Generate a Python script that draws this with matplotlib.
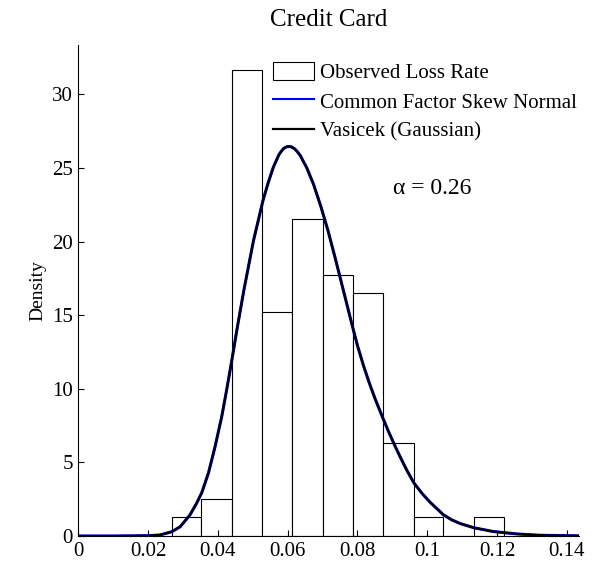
import numpy as np
import matplotlib.pyplot as plt
from matplotlib.patches import Patch
from matplotlib.lines import Line2D

plt.rcParams['font.family'] = ['Liberation Serif', 'DejaVu Serif']

# histogram of observed loss rate (density)
bin_edges = [0.0268, 0.0352, 0.0440, 0.0526, 0.0613, 0.0700, 0.0787, 0.0874, 0.0962, 0.1046, 0.1134, 0.1220]
bin_density = [1.27, 2.54, 31.65, 15.2, 21.55, 17.75, 16.5, 6.35, 1.27, 0.0, 1.27]

# fitted densities (both curves overlap)
curve_x = [0.000, 0.010, 0.020, 0.0234, 0.0268, 0.0292, 0.0320, 0.0339, 0.0354, 0.0373,
           0.0392, 0.0411, 0.0425, 0.0438, 0.0456, 0.0475, 0.0502, 0.0530, 0.0545, 0.0559,
           0.0575, 0.0583, 0.0590, 0.0598, 0.0605, 0.0612, 0.0620, 0.0628, 0.0636, 0.0655,
           0.0674, 0.0695, 0.0715, 0.0735,
           0.0750, 0.0767, 0.0784, 0.0800, 0.0817, 0.0834, 0.0851, 0.0874, 0.0890, 0.0908,
           0.0922, 0.0942, 0.0962, 0.0985, 0.1008, 0.1046, 0.1070, 0.1094, 0.1134, 0.1190,
           0.1257, 0.1323, 0.1436]
vasicek_y = [0.0, 0.0, 0.02, 0.07, 0.29, 0.63, 1.43, 2.22, 2.95, 4.28,
             6.07, 8.1, 9.9, 11.65, 14.2, 16.75, 20.05, 22.85, 24.05, 25.05,
             25.9, 26.17, 26.35, 26.44, 26.46, 26.42, 26.3, 26.1, 25.85, 25.0,
             23.9, 22.4, 20.8, 19.0,
             17.6, 16.0, 14.4, 12.95, 11.6, 10.4, 9.3, 7.95, 7.05, 6.1,
             5.4, 4.45, 3.6, 2.9, 2.3, 1.45, 1.1, 0.85, 0.56, 0.3,
             0.14, 0.05, 0.01]
skew_y = vasicek_y

alpha_val = 0.26

fig = plt.figure(figsize=(6.08, 5.66), dpi=100)
ax = fig.add_axes([0.1288, 0.053, 0.824, 0.8675])

widths = np.diff(bin_edges)
ax.bar(bin_edges[:-1], bin_density, width=widths, align='edge',
       facecolor='white', edgecolor='black', linewidth=0.8)
ax.plot(curve_x, skew_y, color='blue', lw=2.2)
ax.plot(curve_x, vasicek_y, color='black', lw=1.6)

ax.set_xlim(0, 0.1436)
ax.set_ylim(0, 33.35)
ax.set_xticks([0, 0.02, 0.04, 0.06, 0.08, 0.1, 0.12, 0.14])
ax.set_xticklabels(['0', '0.02', '0.04', '0.06', '0.08', '0.1', '0.12', '0.14'])
ax.set_yticks([0, 5, 10, 15, 20, 25, 30])
ax.tick_params(direction='in', length=4, width=0.8, labelsize=15, pad=4)
ax.spines['top'].set_visible(False)
ax.spines['right'].set_visible(False)

ax.set_title('Credit Card', fontsize=18, pad=14)
ax.set_ylabel('Density', fontsize=14, labelpad=4)
ax.text(0.0902, 23.6, '\u03b1 = %.2f' % alpha_val, fontsize=17, va='center', ha='left')

handles = [Patch(facecolor='white', edgecolor='black', linewidth=0.8),
           Line2D([], [], color='blue', lw=1.5),
           Line2D([], [], color='black', lw=1.6)]
labels = ['Observed Loss Rate', 'Common Factor Skew Normal', 'Vasicek (Gaussian)']
ax.legend(handles, labels, loc='upper left', bbox_to_anchor=(0.388, 0.966),
          frameon=False, fontsize=15, borderpad=0, borderaxespad=0,
          handlelength=2.0, handleheight=1.0, handletextpad=0.25, labelspacing=0.38)

plt.savefig('out.png', dpi=100)
